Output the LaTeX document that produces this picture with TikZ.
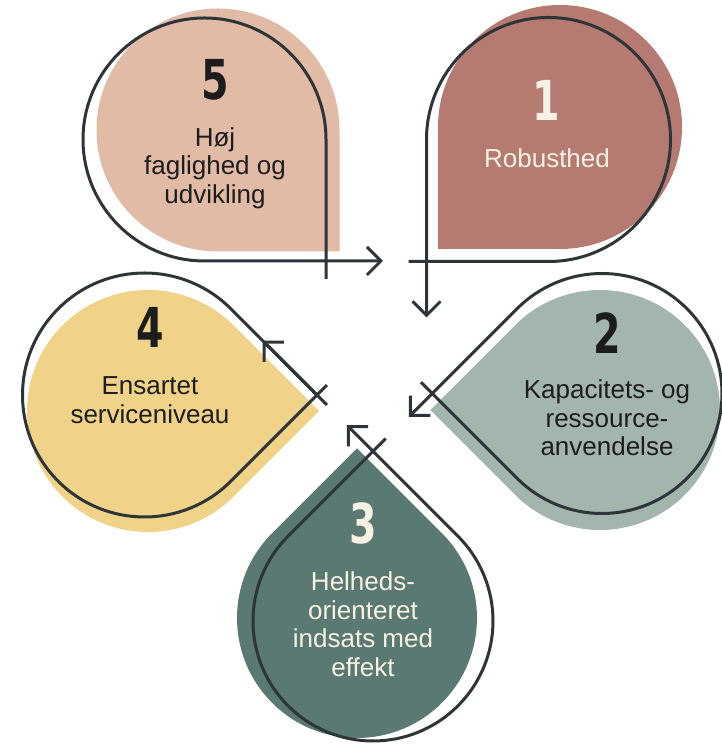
\documentclass[tikz,border=0pt]{standalone}
\usepackage{fontspec}
\setmainfont{Liberation Sans}
\newfontfamily\numfont{DejaVu Sans}
\usetikzlibrary{calc, arrows.meta}
\definecolor{peach}{HTML}{E1BBA5}
\definecolor{rose}{HTML}{B57B72}
\definecolor{sage}{HTML}{A3B6AE}
\definecolor{pine}{HTML}{5A7973}
\definecolor{sand}{HTML}{F0D389}
\definecolor{slate}{HTML}{2E3538}
\definecolor{cream}{HTML}{F7F2E4}
\definecolor{ink}{HTML}{1C1C1C}
\tikzset{
  outl/.style={draw=slate, line width=3pt},
  barb/.style={-{Straight Barb[length=14pt, width=28pt]}},
  numlbl/.style={font=\numfont\bfseries\fontsize{55}{55}\selectfont},
  txtlbl/.style={align=center, font=\fontsize{26}{28.5}\selectfont}
}

\begin{document}
\begin{tikzpicture}[x=1pt, y=1pt]
  \useasboundingbox (0,0) rectangle (721,744);
  % gotas cheias: centro / raio / angulo do bico / cor
  \foreach \xx/\yy/\rr/\ang/\cor in {
    218/614/121.5/-45/peach, 560/617/122/-135/rose,
    600/334/120/180/sage, 357/126/120/90/pine, 148/333/121/0/sand}
  { \fill[\cor] ($(\xx,\yy)+(\ang:{1.4142*\rr})$) -- ($(\xx,\yy)+({\ang+45}:\rr)$)
      arc[start angle=\ang+45, delta angle=270, radius=\rr] -- cycle; }
  % contornos com seta no fim
  \foreach \xx/\yy/\rr/\ang/\ext/\len in {
    204.5/604.5/121.5/-45/18/57, 548.5/604.5/122/-135/18/56,
    602/350.5/120/180/16/33, 373/123/120/90/18/37}
  { \draw[outl, barb] ($(\xx,\yy)+(\ang:{1.4142*\rr})+({\ang-45}:\ext)$)
      -- ($(\xx,\yy)+({\ang+45}:\rr)$)
      arc[start angle=\ang+45, delta angle=270, radius=\rr]
      -- ($(\xx,\yy)+(\ang:{1.4142*\rr})+({\ang+45}:\len)$); }
  % gota 4: seta a meio do lado de cima
  \coordinate (c4) at (144.5,349);
  \coordinate (p4) at ($(c4)+(0:172.5)$);
  \coordinate (t4) at ($(c4)+(45:122)$);
  \draw[outl] ($(p4)+(-45:14)$) -- (t4)
    arc[start angle=45, delta angle=270, radius=122] -- ($(p4)+(45:14)$);
  \draw[outl, barb] (p4) -- ($(p4)!0.63!(t4)$);
  % numeros e textos
  \foreach \nn/\xn/\yn/\xt/\yt/\tcol/\txt in {
    5/215/664/215/576/ink/{Høj\\faglighed og\\udvikling},
    1/546/644/547/586/cream/{Robusthed},
    2/607/411/607/326/ink/{Kapacitets- og\\ressource-\\anvendelse},
    3/363/221/363/120/cream/{Helheds-\\orienteret\\indsats med\\effekt},
    4/150/417/150/344/ink/{Ensartet\\serviceniveau}}
  { \node[numlbl, text=\tcol] (num\nn) at (\xn,\yn) {\scalebox{0.72}[1]{\nn}};
    \node[txtlbl, text=\tcol] (lab\nn) at (\xt,\yt) {\txt}; }
\end{tikzpicture}
\end{document}
